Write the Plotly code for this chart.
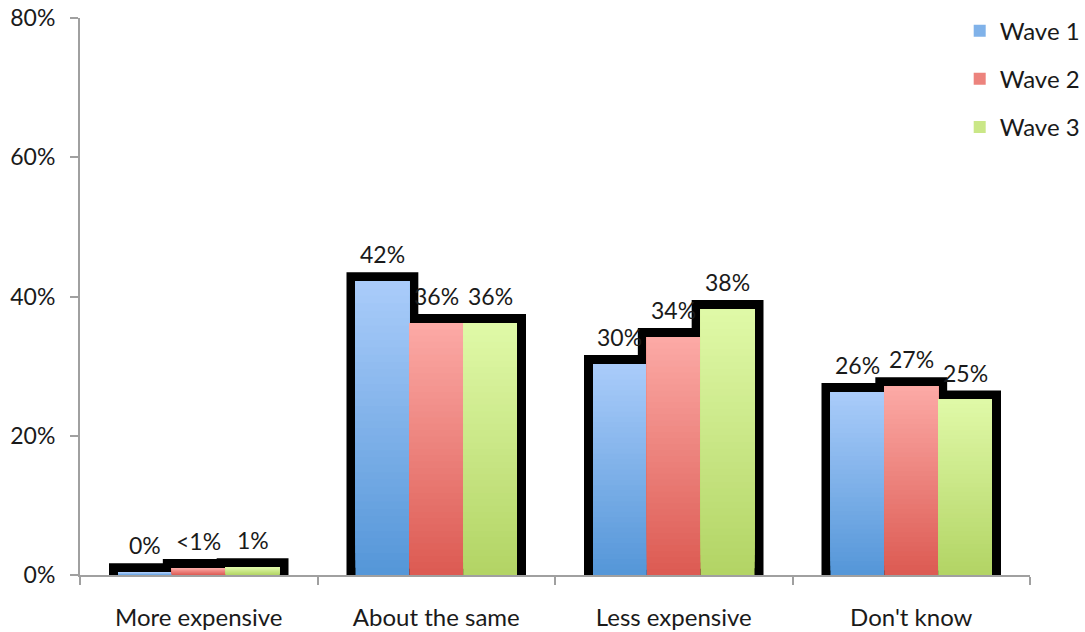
import plotly.graph_objects as go

categories = ["More expensive", "About the same", "Less expensive", "Don't know"]
series_names = ["Wave 1", "Wave 2", "Wave 3"]
wave1 = [0.4, 42.2, 30.3, 26.3]
wave2 = [1.0, 36.2, 34.2, 27.1]
wave3 = [1.1, 36.2, 38.2, 25.2]
labels1 = ["0%", "42%", "30%", "26%"]
labels2 = ["<1%", "36%", "34%", "27%"]
labels3 = ["1%", "36%", "38%", "25%"]
y_ticks = [0, 20, 40, 60, 80]
y_tick_text = ["0%", "20%", "40%", "60%", "80%"]

values = [wave1, wave2, wave3]
labels = [labels1, labels2, labels3]
top_colors = [(170, 204, 250), (252, 170, 166), (224, 249, 168)]
bottom_colors = [(84, 150, 216), (220, 90, 82), (178, 212, 100)]

FONT = "Lato"
N = 40
BARGAP = 0.32
ML, MR, MT, MB = 80, 55, 18, 57
W, H = 1085, 632

fig = go.Figure()

# outline layer (black, thick line around the union of bars)
for s, name in enumerate(series_names):
    fig.add_trace(go.Bar(
        x=categories, y=values[s], offsetgroup=name, legendgroup=name,
        marker=dict(color="black", line=dict(color="black", width=18)),
        showlegend=False, hoverinfo="skip",
    ))

def mix(c0, c1, t):
    return "rgb(%d,%d,%d)" % tuple(round(a + (b - a) * t) for a, b in zip(c0, c1))

# gradient fill layer: overlapping slices of each bar (each from its base up to the top)
for s, name in enumerate(series_names):
    v = values[s]
    for k in range(N):
        t = (k + 0.5) / N
        fig.add_trace(go.Bar(
            x=categories,
            y=[val * (N - k) / N for val in v],
            base=[val * k / N for val in v],
            offsetgroup=name, legendgroup=name, name=name,
            marker=dict(color=mix(bottom_colors[s], top_colors[s], t), line=dict(width=0)),
            showlegend=(k == N // 2), hoverinfo="skip",
        ))

# data labels above each bar
cat_px = (W - ML - MR) / len(categories)
bar_px = cat_px * (1 - BARGAP) / len(series_names)
for s in range(len(series_names)):
    for i, c in enumerate(categories):
        fig.add_annotation(
            x=c, y=values[s][i], xref="x", yref="y",
            text=labels[s][i], showarrow=False,
            xanchor="center", yanchor="bottom",
            xshift=(s - 1) * bar_px, yshift=11,
            font=dict(family=FONT, size=23, color="#1a1a1a"),
        )

axis_color = "#a0a0a0"
fig.update_layout(
    width=W, height=H,
    margin=dict(l=ML, r=MR, t=MT, b=MB, autoexpand=False),
    plot_bgcolor="white", paper_bgcolor="white",
    barmode="group", bargap=BARGAP, bargroupgap=0,
    font=dict(family=FONT, size=24, color="#1a1a1a"),
    legend=dict(x=0.926, xanchor="left", y=1.017, yanchor="top",
                font=dict(family=FONT, size=24, color="#1a1a1a"),
                tracegroupgap=14, bgcolor="rgba(0,0,0,0)"),
    showlegend=True,
)
fig.update_yaxes(range=[0, 80], tickvals=y_ticks, ticktext=y_tick_text,
                 showline=True, linecolor=axis_color, linewidth=2,
                 ticks="outside", ticklen=8, tickcolor=axis_color, tickwidth=2,
                 showgrid=False, zeroline=False, ticklabelstandoff=10,
                 tickfont=dict(family=FONT, size=23, color="#1a1a1a"))
fig.update_xaxes(showline=True, linecolor=axis_color, linewidth=2,
                 ticks="outside", ticklen=8, tickcolor=axis_color, tickwidth=2,
                 tickson="boundaries", showgrid=False, ticklabelstandoff=20,
                 tickfont=dict(family=FONT, size=24, color="#1a1a1a"))

fig.write_html("out.html")
